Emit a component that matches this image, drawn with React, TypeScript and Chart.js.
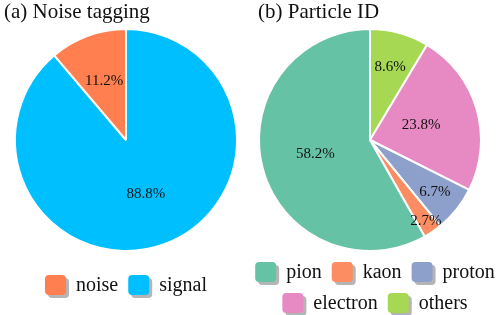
import React, { useEffect, useRef } from "react";
import { Chart, registerables } from "chart.js";

Chart.register(...registerables);

const noiseTitle = "(a) Noise tagging";
const noiseLabels = ["noise", "signal"];
const noiseValues = [11.2, 88.8];
const noiseColors = ["#FF7F50", "#00BFFF"];
const noisePctDistance = [0.57, 0.52];

const pidTitle = "(b) Particle ID";
const pidLabels = ["pion", "kaon", "proton", "electron", "others"];
const pidValues = [58.2, 2.7, 6.7, 23.8, 8.6];
const pidColors = ["#66c2a5", "#fc8d62", "#8da0cb", "#e78ac3", "#a6d854"];
const pidPctDistance = [0.51, 0.89, 0.75, 0.48, 0.68];

const SERIF = "\"Liberation Serif\", serif";

const pctLabelPlugin = {
  id: "pctLabels",
  afterDatasetsDraw(chart: any, _args: any, opts: any) {
    const ctx = chart.ctx;
    const meta = chart.getDatasetMeta(0);
    const data = chart.data.datasets[0].data as number[];
    const dist: number[] = opts.distances || [];
    ctx.save();
    ctx.font = `15px ${SERIF}`;
    ctx.fillStyle = "#111";
    ctx.textAlign = "center";
    ctx.textBaseline = "middle";
    meta.data.forEach((arc: any, i: number) => {
      const mid = (arc.startAngle + arc.endAngle) / 2;
      const r = arc.outerRadius * (dist[i] ?? 0.6);
      const x = arc.x + Math.cos(mid) * r;
      const y = arc.y + Math.sin(mid) * r;
      ctx.fillText(data[i].toFixed(1) + "%", x, y);
    });
    ctx.restore();
  },
};

function roundRect(ctx: any, x: number, y: number, w: number, h: number, r: number) {
  ctx.beginPath();
  ctx.moveTo(x + r, y);
  ctx.lineTo(x + w - r, y);
  ctx.quadraticCurveTo(x + w, y, x + w, y + r);
  ctx.lineTo(x + w, y + h - r);
  ctx.quadraticCurveTo(x + w, y + h, x + w - r, y + h);
  ctx.lineTo(x + r, y + h);
  ctx.quadraticCurveTo(x, y + h, x, y + h - r);
  ctx.lineTo(x, y + r);
  ctx.quadraticCurveTo(x, y, x + r, y);
  ctx.closePath();
}

function makeDecorPlugin(title: string, titleX: number, rows: any[]) {
  return {
    id: "decor",
    afterDraw(chart: any) {
      const ctx = chart.ctx;
      ctx.save();
      ctx.fillStyle = "#111";
      ctx.textAlign = "left";
      ctx.textBaseline = "alphabetic";
      ctx.font = `21px ${SERIF}`;
      ctx.fillText(title, titleX, 18);
      ctx.font = `20px ${SERIF}`;
      const boxW = 21;
      const boxH = 20;
      const gap = 10;
      rows.forEach((row) => {
        const widths = row.items.map((it: any) => ctx.measureText(it.label).width);
        let total = 0;
        widths.forEach((w: number) => (total += boxW + gap + w));
        total += gap * (row.items.length - 1);
        let x = row.centerX - total / 2;
        row.items.forEach((it: any, i: number) => {
          ctx.fillStyle = "#b5b5b5";
          roundRect(ctx, x + 3, row.y + 3, boxW, boxH, 4);
          ctx.fill();
          ctx.fillStyle = it.color;
          roundRect(ctx, x, row.y, boxW, boxH, 4);
          ctx.fill();
          ctx.fillStyle = "#111";
          ctx.fillText(it.label, x + boxW + gap, row.y + boxH / 2 + 6);
          x += boxW + gap + widths[i] + gap;
        });
      });
      ctx.restore();
    },
  };
}

function Pie({ title, titleX, rows, labels, values, colors, distances, left, width, padding }: any) {
  const ref = useRef<HTMLCanvasElement>(null);
  useEffect(() => {
    if (!ref.current) return;
    // matplotlib draws counter-clockwise from the top; Chart.js clockwise, so reverse
    const l = [...labels].reverse();
    const v = [...values].reverse();
    const c = [...colors].reverse();
    const d = [...distances].reverse();
    const chart = new Chart(ref.current, {
      type: "pie",
      data: {
        labels: l,
        datasets: [
          {
            data: v,
            backgroundColor: c,
            borderColor: "#ffffff",
            borderWidth: 2,
          },
        ],
      },
      options: {
        animation: false,
        responsive: false,
        maintainAspectRatio: false,
        layout: { padding },
        plugins: {
          legend: { display: false },
          tooltip: { enabled: false },
          pctLabels: { distances: d },
        } as any,
      },
      plugins: [pctLabelPlugin, makeDecorPlugin(title, titleX, rows)],
    });
    return () => chart.destroy();
  }, []);
  return (
    <canvas
      ref={ref}
      width={width}
      height={315}
      style={{ position: "absolute", left, top: 0, width, height: 315 }}
    />
  );
}

export default function App() {
  const noiseRows = [
    { y: 275, centerX: 126, items: noiseLabels.map((l, i) => ({ label: l, color: noiseColors[i] })) },
  ];
  const pidItems = pidLabels.map((l, i) => ({ label: l, color: pidColors[i] }));
  const pidRows = [
    { y: 262, centerX: 125, items: pidItems.slice(0, 3) },
    { y: 293, centerX: 125, items: pidItems.slice(3) },
  ];
  return (
    <div
      style={{
        position: "absolute",
        left: 0,
        top: 0,
        width: 499,
        height: 315,
        background: "#fff",
        overflow: "hidden",
      }}
    >
      <Pie
        title={noiseTitle}
        titleX={4}
        rows={noiseRows}
        labels={noiseLabels}
        values={noiseValues}
        colors={noiseColors}
        distances={noisePctDistance}
        left={0}
        width={250}
        padding={{ left: 14, right: 12, top: 28, bottom: 63 }}
      />
      <Pie
        title={pidTitle}
        titleX={8}
        rows={pidRows}
        labels={pidLabels}
        values={pidValues}
        colors={pidColors}
        distances={pidPctDistance}
        left={250}
        width={249}
        padding={{ left: 8, right: 17, top: 28, bottom: 63 }}
      />
    </div>
  );
}
